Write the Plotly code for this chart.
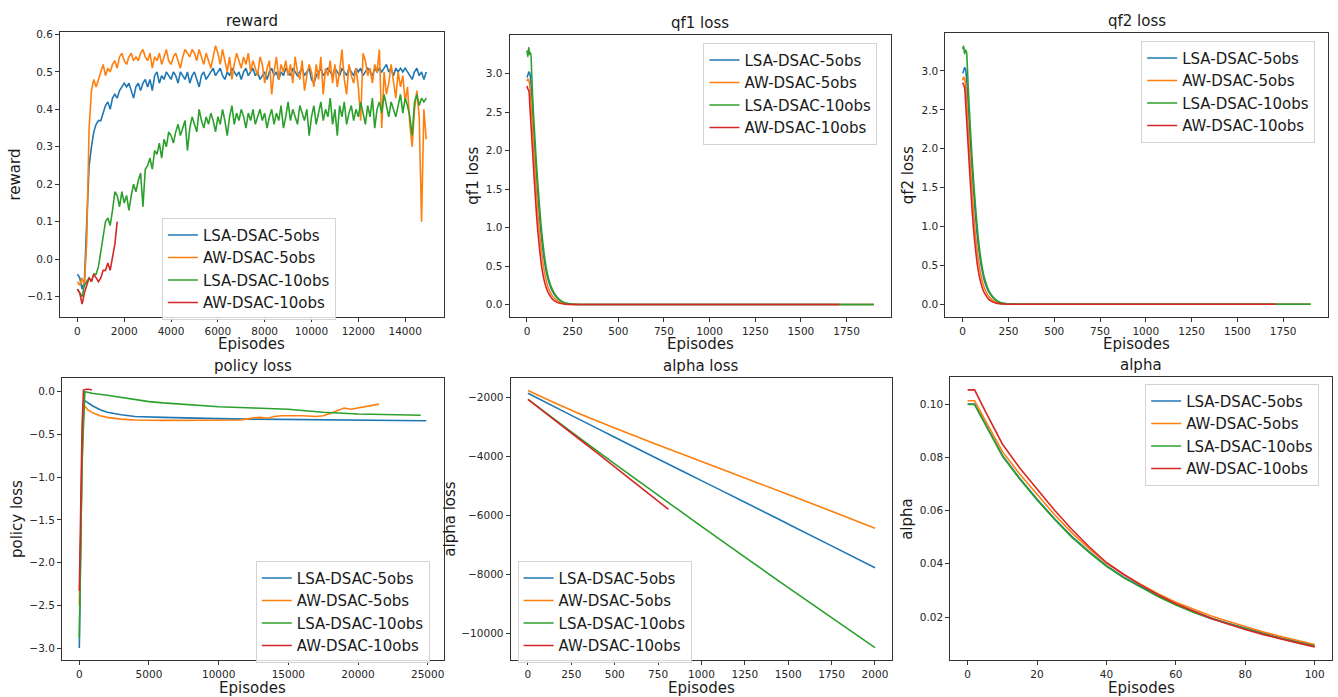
import plotly.graph_objects as go

W, H = 1338, 697
NAMES = ["LSA-DSAC-5obs", "AW-DSAC-5obs", "LSA-DSAC-10obs", "AW-DSAC-10obs"]
COLORS = ["#1f77b4", "#ff7f0e", "#2ca02c", "#d62728"]

# ---------------- reward ----------------
REW_EP = list(range(0, 15000, 100))
REW_EP_RED = list(range(0, 1800, 100))
rew_lsa5 = [-0.04, -0.05, -0.08, -0.06, 0.10, 0.25, 0.30, 0.34, 0.36, 0.37,
            0.37, 0.39, 0.41, 0.42, 0.40, 0.43, 0.44, 0.43, 0.45, 0.46,
            0.47, 0.46, 0.47, 0.45, 0.43, 0.46, 0.47, 0.45, 0.47, 0.48,
            0.46, 0.48, 0.45, 0.49, 0.50, 0.47, 0.49, 0.48, 0.50, 0.49,
            0.48, 0.50, 0.49, 0.47, 0.50, 0.49, 0.48, 0.50, 0.47, 0.49,
            0.50, 0.48, 0.46, 0.49, 0.50, 0.48, 0.49, 0.50, 0.51, 0.49,
            0.50, 0.51, 0.49, 0.48, 0.50, 0.49, 0.51, 0.50, 0.49, 0.50,
            0.48, 0.50, 0.51, 0.49, 0.50, 0.51, 0.49, 0.50, 0.48, 0.49,
            0.50, 0.48, 0.50, 0.51, 0.49, 0.50, 0.48, 0.50, 0.49, 0.51,
            0.50, 0.49, 0.51, 0.50, 0.49, 0.50, 0.51, 0.49, 0.50, 0.51,
            0.48, 0.47, 0.49, 0.50, 0.51, 0.49, 0.50, 0.51, 0.50, 0.49,
            0.51, 0.50, 0.49, 0.51, 0.50, 0.49, 0.51, 0.50, 0.49, 0.51,
            0.50, 0.51, 0.49, 0.50, 0.51, 0.50, 0.49, 0.51, 0.50, 0.51,
            0.50, 0.51, 0.52, 0.50, 0.51, 0.49, 0.51, 0.50, 0.51, 0.50,
            0.51, 0.50, 0.49, 0.48, 0.50, 0.51, 0.49, 0.50, 0.48, 0.50]
rew_aw5 = [-0.06, -0.07, -0.05, -0.07, 0.05, 0.35, 0.45, 0.48, 0.46, 0.48,
           0.50, 0.52, 0.49, 0.51, 0.50, 0.52, 0.53, 0.51, 0.54, 0.55,
           0.53, 0.52, 0.54, 0.55, 0.53, 0.54, 0.53, 0.55, 0.56, 0.54,
           0.53, 0.55, 0.51, 0.54, 0.53, 0.55, 0.52, 0.54, 0.56, 0.53,
           0.52, 0.54, 0.55, 0.53, 0.51, 0.54, 0.56, 0.55, 0.54, 0.56,
           0.55, 0.53, 0.56, 0.54, 0.52, 0.55, 0.53, 0.51, 0.54, 0.57,
           0.55, 0.52, 0.56, 0.53, 0.50, 0.54, 0.48, 0.52, 0.55, 0.53,
           0.51, 0.54, 0.52, 0.55, 0.50, 0.53, 0.51, 0.49, 0.54, 0.52,
           0.47, 0.51, 0.53, 0.44, 0.50, 0.54, 0.48, 0.52, 0.50, 0.53,
           0.49, 0.52, 0.47, 0.54, 0.50, 0.48, 0.53, 0.45, 0.49, 0.52,
           0.50, 0.46, 0.52, 0.48, 0.54, 0.44, 0.51, 0.49, 0.53, 0.47,
           0.52, 0.46, 0.50, 0.56, 0.48, 0.44, 0.52, 0.49, 0.47, 0.51,
           0.46, 0.37, 0.55, 0.53, 0.49, 0.51, 0.47, 0.52, 0.50, 0.56,
           0.35, 0.50, 0.44, 0.47, 0.52, 0.48, 0.43, 0.50, 0.46, 0.49,
           0.42, 0.46, 0.36, 0.30, 0.40, 0.45, 0.38, 0.10, 0.40, 0.32]
rew_lsa10 = [-0.08, -0.09, -0.10, -0.07, -0.06, -0.05, -0.06, -0.04, -0.04, -0.02,
             0.02, 0.06, 0.10, 0.11, 0.09, 0.13, 0.18, 0.17, 0.14, 0.18,
             0.15, 0.17, 0.13, 0.17, 0.20, 0.18, 0.21, 0.23, 0.14, 0.24,
             0.25, 0.27, 0.24, 0.29, 0.28, 0.31, 0.27, 0.32, 0.30, 0.34,
             0.33, 0.31, 0.34, 0.36, 0.33, 0.35, 0.37, 0.29, 0.35, 0.38,
             0.36, 0.34, 0.40, 0.37, 0.35, 0.38, 0.36, 0.39, 0.37, 0.34,
             0.38, 0.36, 0.40, 0.37, 0.33, 0.38, 0.41, 0.36, 0.39, 0.37,
             0.40, 0.38, 0.35, 0.39, 0.37, 0.40, 0.36, 0.38, 0.40, 0.37,
             0.39, 0.35, 0.38, 0.40, 0.36, 0.39, 0.37, 0.41, 0.35, 0.38,
             0.42, 0.37, 0.40, 0.38, 0.36, 0.41, 0.39, 0.37, 0.40, 0.33,
             0.38, 0.41, 0.36, 0.39, 0.42, 0.37, 0.40, 0.38, 0.43, 0.36,
             0.40, 0.33, 0.41, 0.38, 0.42, 0.36, 0.39, 0.41, 0.37, 0.40,
             0.38, 0.42, 0.39, 0.36, 0.41, 0.38, 0.43, 0.35, 0.40, 0.42,
             0.39, 0.44, 0.41, 0.38, 0.42, 0.40, 0.38, 0.41, 0.44, 0.39,
             0.43, 0.41, 0.38, 0.33, 0.42, 0.44, 0.41, 0.43, 0.42, 0.43]
rew_aw10 = [-0.08, -0.09, -0.12, -0.09, -0.07, -0.05, -0.06, -0.04, -0.05,
            -0.06, -0.05, -0.03, -0.03, -0.01, -0.03, 0.01, 0.04, 0.10]

# ---------------- qf losses ----------------
QF_EP = [0, 5, 10, 15, 20, 25, 30, 40, 50, 60, 70, 80, 90, 100, 110, 120,
         140, 160, 180, 200, 225, 250, 300]
QF_END_5 = 1900
QF_END_LSA10 = 1900
QF_END_AW10 = 1710
qf1_lsa5 = [2.95, 2.98, 3.02, 3.01, 2.92, 2.75, 2.55, 2.15, 1.75, 1.42, 1.12, 0.86,
            0.66, 0.50, 0.38, 0.29, 0.17, 0.10, 0.055, 0.027, 0.010, 0.004, 0.001, 0.0]
qf1_aw5 = [2.90, 2.93, 2.91, 2.85, 2.70, 2.50, 2.30, 1.90, 1.52, 1.18, 0.90, 0.68,
           0.50, 0.37, 0.27, 0.20, 0.11, 0.06, 0.03, 0.015, 0.005, 0.002, 0.0, 0.0]
qf1_lsa10 = [3.30, 3.22, 3.34, 3.25, 3.27, 3.05, 2.75, 2.30, 1.90, 1.55, 1.24, 0.96,
             0.74, 0.56, 0.42, 0.32, 0.19, 0.11, 0.06, 0.03, 0.012, 0.004, 0.001, 0.0]
qf1_aw10 = [2.84, 2.80, 2.78, 2.62, 2.42, 2.22, 2.02, 1.62, 1.25, 0.94, 0.70, 0.50,
            0.36, 0.26, 0.19, 0.14, 0.07, 0.035, 0.017, 0.008, 0.003, 0.001, 0.0, 0.0]
qf2_lsa5 = [2.97, 3.00, 3.04, 3.03, 2.93, 2.76, 2.56, 2.16, 1.76, 1.43, 1.13, 0.87,
            0.67, 0.51, 0.39, 0.29, 0.17, 0.10, 0.055, 0.027, 0.010, 0.004, 0.001, 0.0]
qf2_aw5 = [2.88, 2.92, 2.90, 2.84, 2.69, 2.49, 2.29, 1.89, 1.51, 1.17, 0.89, 0.67,
           0.50, 0.37, 0.27, 0.20, 0.11, 0.06, 0.03, 0.015, 0.005, 0.002, 0.0, 0.0]
qf2_lsa10 = [3.28, 3.32, 3.22, 3.27, 3.25, 3.08, 2.80, 2.35, 1.93, 1.57, 1.26, 0.98,
             0.75, 0.57, 0.43, 0.33, 0.19, 0.11, 0.06, 0.03, 0.012, 0.004, 0.001, 0.0]
qf2_aw10 = [2.85, 2.82, 2.79, 2.63, 2.43, 2.23, 2.03, 1.63, 1.26, 0.95, 0.71, 0.51,
            0.37, 0.27, 0.19, 0.14, 0.07, 0.035, 0.017, 0.008, 0.003, 0.001, 0.0, 0.0]

# ---------------- policy loss ----------------
pol_lsa5_x = [0, 100, 200, 350, 600, 1000, 1500, 2000, 3000, 4000, 6000, 8000,
              10000, 12000, 15000, 18000, 20000, 22000, 24900]
pol_lsa5_y = [-3.0, -1.8, -0.6, -0.10, -0.13, -0.17, -0.21, -0.24, -0.27, -0.29,
              -0.30, -0.31, -0.315, -0.32, -0.325, -0.33, -0.335, -0.335, -0.34]
pol_aw5_x = [0, 100, 200, 300, 600, 1000, 1500, 2000, 3000, 4000, 6000, 8000, 10000,
             11500, 12000, 12500, 13000, 13500, 14000, 14500, 15000, 16000, 17000,
             17500, 18000, 18500, 19000, 19500, 20000, 20500, 21000, 21500]
pol_aw5_y = [-2.5, -1.6, -0.6, -0.15, -0.21, -0.25, -0.28, -0.30, -0.32, -0.33,
             -0.335, -0.335, -0.335, -0.33, -0.32, -0.305, -0.30, -0.31, -0.29,
             -0.28, -0.28, -0.28, -0.29, -0.28, -0.255, -0.22, -0.19, -0.205,
             -0.19, -0.175, -0.16, -0.145]
pol_lsa10_x = [0, 100, 200, 400, 1000, 2000, 3000, 4000, 5000, 6000, 7500, 10000,
               12500, 15000, 16000, 17500, 20000, 22500, 24500]
pol_lsa10_y = [-2.88, -1.9, -0.8, 0.0, -0.02, -0.04, -0.065, -0.09, -0.115, -0.13,
               -0.15, -0.175, -0.19, -0.205, -0.22, -0.24, -0.26, -0.27, -0.275]
pol_aw10_x = [0, 100, 200, 300, 500, 700, 900]
pol_aw10_y = [-2.33, -1.4, -0.4, 0.02, 0.03, 0.03, 0.02]

# ---------------- alpha loss ----------------
AL_EP = [0, 250, 500, 750, 1000, 1250, 1500, 1750, 2000]
al_lsa5 = [-1870, -2620, -3360, -4100, -4830, -5560, -6300, -7040, -7780]
al_aw5 = [-1780, -2450, -3050, -3620, -4180, -4740, -5300, -5870, -6440]
al_lsa10 = [-2080, -3180, -4260, -5320, -6380, -7420, -8450, -9470, -10485]
AL_EP_RED = [0, 200, 400, 600, 810]
al_aw10 = [-2080, -2990, -3900, -4830, -5800]

# ---------------- alpha ----------------
A_EP = [0, 2, 5, 10, 15, 20, 25, 30, 35, 40, 45, 50, 55, 60, 65, 70, 75, 80, 85, 90, 95, 100]
a_lsa5 = [0.1000, 0.1000, 0.0928, 0.0808, 0.0721, 0.0643, 0.0570, 0.0503, 0.0446, 0.0393, 0.0350,
          0.0313, 0.0279, 0.0248, 0.0221, 0.0197, 0.0177, 0.0158, 0.0139, 0.0122, 0.0107, 0.0093]
a_aw5 = [0.1012, 0.1012, 0.0940, 0.0822, 0.0737, 0.0660, 0.0585, 0.0517, 0.0457, 0.0402, 0.0360,
         0.0322, 0.0287, 0.0256, 0.0229, 0.0205, 0.0184, 0.0164, 0.0145, 0.0128, 0.0112, 0.0097]
a_lsa10 = [0.0998, 0.0998, 0.0925, 0.0805, 0.0718, 0.0640, 0.0567, 0.0500, 0.0443, 0.0390, 0.0347,
           0.0310, 0.0276, 0.0245, 0.0218, 0.0195, 0.0175, 0.0156, 0.0137, 0.0120, 0.0105, 0.0091]
a_aw10 = [0.1053, 0.1053, 0.0975, 0.0850, 0.0760, 0.0680, 0.0602, 0.0530, 0.0464, 0.0405, 0.0360,
          0.0320, 0.0283, 0.0250, 0.0222, 0.0196, 0.0174, 0.0153, 0.0135, 0.0118, 0.0103, 0.0088]

# panel boxes in pixels (left, right, top, bottom)
BOXES = [(60, 444, 28, 315), (510, 892, 31, 315), (946, 1329, 29, 315),
         (62, 444, 376, 660), (511, 893, 376, 660), (951, 1333, 375, 660)]
TITLES = ["reward", "qf1 loss", "qf2 loss", "policy loss", "alpha loss", "alpha"]
YLABELS = ["reward", "qf1 loss", "qf2 loss", "policy loss", "alpha loss", "alpha"]
TITLE_Y = [17, 19, 17, 364, 364, 363]
XLAB_Y = [342, 342, 342, 688, 688, 688]
YLAB_X = [15, 473, 909, 17, 450, 907]
XRANGES = [(-745, 15645), (-95, 1995), (-95, 1995), (-1245, 26145), (-100, 2100), (-5, 105)]
YRANGES = [(-0.155, 0.607), (-0.164, 3.504), (-0.166, 3.49), (-3.143, 0.163),
           (-10910, -1350), (0.0038, 0.1102)]
XDTICK = [2000, 250, 250, 5000, 250, 20]
XTICK0 = [(0, 14000), (0, 1750), (0, 1750), (0, 25000), (0, 2000), (0, 100)]
YDTICK = [0.1, 0.5, 0.5, 0.5, 2000, 0.02]
YTICK0 = [(-0.1, 0.6), (0.0, 3.0), (0.0, 3.0), (-3.0, 0.0), (-10000, -2000), (0.02, 0.10)]
YFMT = [".1f", ".1f", ".1f", ".1f", "d", ".2f"]
# legend top-left corner in pixels
LEG_POS = [(162, 215), (704, 39), (1142, 37), (256, 560), (518, 560), (1146, 382)]

fig = go.Figure()

def add(panel, x, y, k, shape="linear"):
    n = "" if panel == 0 else str(panel + 1)
    fig.add_trace(go.Scatter(
        x=x, y=y, mode="lines", name=NAMES[k],
        line=dict(color=COLORS[k], width=1.6, shape=shape),
        xaxis="x" + n, yaxis="y" + n, legend="legend" + n,
        hoverinfo="skip"))

add(0, REW_EP, rew_lsa5, 0)
add(0, REW_EP, rew_aw5, 1)
add(0, REW_EP, rew_lsa10, 2)
add(0, REW_EP_RED, rew_aw10, 3)

for p, series in ((1, (qf1_lsa5, qf1_aw5, qf1_lsa10, qf1_aw10)),
                  (2, (qf2_lsa5, qf2_aw5, qf2_lsa10, qf2_aw10))):
    ends = (QF_END_5, QF_END_5, QF_END_LSA10, QF_END_AW10)
    for k in range(4):
        add(p, QF_EP + [ends[k]], series[k], k, "spline")

add(3, pol_lsa5_x, pol_lsa5_y, 0)
add(3, pol_aw5_x, pol_aw5_y, 1)
add(3, pol_lsa10_x, pol_lsa10_y, 2)
add(3, pol_aw10_x, pol_aw10_y, 3)

add(4, AL_EP, al_lsa5, 0, "spline")
add(4, AL_EP, al_aw5, 1, "spline")
add(4, AL_EP, al_lsa10, 2, "spline")
add(4, AL_EP_RED, al_aw10, 3, "spline")

add(5, A_EP, a_lsa5, 0)
add(5, A_EP, a_aw5, 1)
add(5, A_EP, a_lsa10, 2)
add(5, A_EP, a_aw10, 3)

FONT = "DejaVu Sans, Arial, sans-serif"
axis_common = dict(showgrid=False, zeroline=False, showline=True, mirror=True,
                   linecolor="#333333", linewidth=1, ticks="outside", ticklen=4,
                   tickwidth=1, tickcolor="#333333",
                   tickfont=dict(family=FONT, size=10.5, color="#262626"))
layout = dict(width=W, height=H, autosize=False,
              margin=dict(l=0, r=0, t=0, b=0),
              paper_bgcolor="white", plot_bgcolor="white",
              font=dict(family=FONT, color="#1a1a1a"))
annotations = []
for i, (l, r, t, b) in enumerate(BOXES):
    n = "" if i == 0 else str(i + 1)
    xa = dict(axis_common, domain=[l / W, r / W], range=list(XRANGES[i]),
              anchor="y" + n, tickmode="array", tickformat="d",
              tickvals=[XTICK0[i][0] + XDTICK[i] * j for j in
                        range(int(round((XTICK0[i][1] - XTICK0[i][0]) / XDTICK[i])) + 1)])
    yvals = [YTICK0[i][0] + YDTICK[i] * j for j in
             range(int(round((YTICK0[i][1] - YTICK0[i][0]) / YDTICK[i])) + 1)]
    ya = dict(axis_common, domain=[1 - b / H, 1 - t / H], range=list(YRANGES[i]),
              anchor="x" + n, tickmode="array", tickvals=yvals, tickformat=YFMT[i])
    layout["xaxis" + n] = xa
    layout["yaxis" + n] = ya
    lx, ly = LEG_POS[i]
    layout["legend" + n] = dict(x=lx / W, y=1 - ly / H, xanchor="left", yanchor="top",
                                xref="paper", yref="paper",
                                bgcolor="rgba(255,255,255,0.8)", bordercolor="#d3d3d3",
                                borderwidth=1, itemwidth=30,
                                font=dict(family=FONT, size=15, color="#1a1a1a"))
    cx = (l + r) / 2 / W
    annotations.append(dict(text=TITLES[i], x=cx, y=1 - TITLE_Y[i] / H, xref="paper",
                            yref="paper", showarrow=False, xanchor="center",
                            yanchor="middle", font=dict(family=FONT, size=15, color="#1a1a1a")))
    annotations.append(dict(text="Episodes", x=cx, y=1 - XLAB_Y[i] / H, xref="paper",
                            yref="paper", showarrow=False, xanchor="center",
                            yanchor="middle", font=dict(family=FONT, size=15, color="#1a1a1a")))
    annotations.append(dict(text=YLABELS[i], x=YLAB_X[i] / W, y=1 - (t + b) / 2 / H,
                            xref="paper", yref="paper", showarrow=False, textangle=-90,
                            xanchor="center", yanchor="middle",
                            font=dict(family=FONT, size=15, color="#1a1a1a")))
layout["annotations"] = annotations
layout["showlegend"] = True
fig.update_layout(**layout)
fig.write_html("out.html", config={"displayModeBar": False},
               post_script="document.body.style.margin='0px';document.body.style.overflow='hidden';")
